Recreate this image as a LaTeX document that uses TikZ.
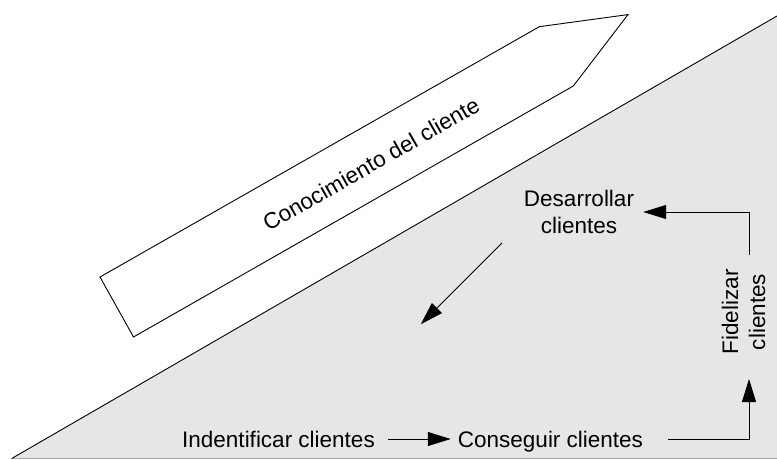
\documentclass[tikz,border=0pt]{standalone}
\usepackage{fontspec}
\setmainfont{Liberation Sans}
\usetikzlibrary{arrows.meta}
\definecolor{rampgray}{HTML}{E6E6E6}
\definecolor{edgegray}{HTML}{A6A6A6}
\begin{document}
\begin{tikzpicture}[x=1bp,y=-1bp,
  lbl/.style={inner sep=0pt, font=\fontsize{22.5bp}{27bp}\selectfont, align=center},
  oneline/.style={lbl, text height=16bp, text depth=0bp},
  conn/.style={draw, line width=0.9bp, -{Triangle[length=23bp,width=14bp]}},
  outline/.style={draw, line width=0.9bp}]
\useasboundingbox (0,0) rectangle (777,460);
% shaded ramp
\fill[rampgray] (11.7,458.5) -- (777,16) -- (777,458.5) -- cycle;
\draw[edgegray, line width=0.9bp] (11.7,458.5) -- (777,458.5);
\draw[outline] (11.7,458.5) -- (777,16);
% long pointed arrow with its label
\draw[outline, fill=white] (100,277) -- (539.3,26.7) -- (628,14.6) -- (573.3,86) -- (133.5,337) -- cycle;
\node[lbl, rotate=29.7] (know) at (371,164) {Conocimiento del cliente};
% cycle steps
\node[oneline, anchor=base] (ind) at (278.5,447) {Indentificar clientes};
\node[oneline, anchor=base] (cons) at (550.5,447) {Conseguir clientes};
\node[lbl, rotate=90] (fid) at (743.5,312) {Fidelizar\\clientes};
\node[lbl] (desa) at (579,212) {Desarrollar\\clientes};
\coordinate (fidlow) at (749,379);
\coordinate (fidhigh) at (749,255);
\coordinate (dstart) at (502,243);
\coordinate (dend) at (420.7,324.3);
% connectors
\draw[conn, shorten <=13bp, shorten >=7bp] (ind) -- (cons);
\draw[conn, shorten <=25bp] (cons.east) -| (fidlow);
\draw[conn, shorten >=9bp] (fidhigh) |- (desa.east);
\draw[conn] (dstart) -- (dend);
\end{tikzpicture}
\end{document}
